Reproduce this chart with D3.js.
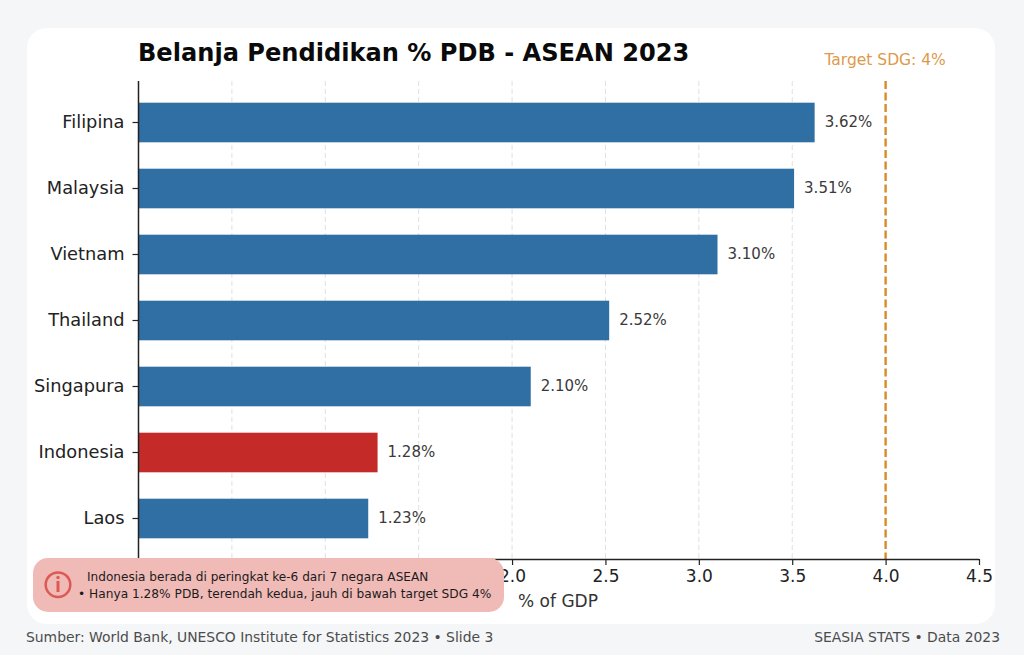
<!DOCTYPE html>
<html>
<head>
<meta charset="utf-8">
<script src="https://cdn.jsdelivr.net/npm/d3@7/dist/d3.min.js"></script>
<style>
html,body{margin:0;padding:0;background:#f4f6f8;}
svg{display:block;}
svg text{font-family:"DejaVu Sans",sans-serif;}
</style>
</head>
<body>
<svg id="chart" width="1024" height="655"></svg>
<script>
const countries = ["Filipina","Malaysia","Vietnam","Thailand","Singapura","Indonesia","Laos"];
const spending = [3.62,3.51,3.10,2.52,2.10,1.28,1.23];
const xTicks = [0,0.5,1.0,1.5,2.0,2.5,3.0,3.5,4.0,4.5];
const gridTicks = [0.5,1.0,1.5,2.0,2.5,3.0,3.5];
const targetValue = 4;
const highlighted = "Indonesia";
const titleText = "Belanja Pendidikan % PDB - ASEAN 2023";
const calloutLines = ["Indonesia berada di peringkat ke-6 dari 7 negara ASEAN","• Hanya 1.28% PDB, terendah kedua, jauh di bawah target SDG 4%"];

const svg = d3.select("#chart");
const x = d3.scaleLinear().domain([0,4.5]).range([138.5,979]);
const y = d3.scaleBand().domain(countries).range([89.5,551.5]).paddingInner(0.4).paddingOuter(0.2);
const axisTop = 81, axisBottom = 559;

// page card
svg.append("rect").attr("x",27).attr("y",28).attr("width",968).attr("height",596).attr("rx",20).attr("fill","#fff");

// title
svg.append("text").attr("x",138).attr("y",61).attr("font-size",24.1).attr("font-weight",700).attr("fill","#0a0a0a").text(titleText);

// vertical gridlines
svg.append("g").selectAll("line").data(gridTicks).join("line")
  .attr("x1",d=>x(d)).attr("x2",d=>x(d)).attr("y1",axisTop).attr("y2",axisBottom)
  .attr("stroke","#e0e0e0").attr("stroke-width",1).attr("stroke-dasharray","5 3");

// bars
svg.append("g").selectAll("rect").data(countries).join("rect")
  .attr("x",x(0)).attr("y",d=>y(d)).attr("height",y.bandwidth())
  .attr("width",(d,i)=>x(spending[i])-x(0))
  .attr("fill",d=>d===highlighted?"#c32a28":"#2f6fa3");

// value labels
svg.append("g").selectAll("text").data(countries).join("text")
  .attr("x",(d,i)=>x(spending[i])+10).attr("y",d=>y(d)+y.bandwidth()/2+4.5)
  .attr("font-size",15).attr("fill","#3a3a3a").text((d,i)=>spending[i].toFixed(2)+"%");

// SDG target line
svg.append("line").attr("x1",x(targetValue)).attr("x2",x(targetValue)).attr("y1",axisTop).attr("y2",axisBottom)
  .attr("stroke","#d98a2b").attr("stroke-width",2.4).attr("stroke-dasharray","8 3.5");
svg.append("text").attr("x",x(targetValue)-0.5).attr("y",65).attr("text-anchor","middle")
  .attr("font-size",15.5).attr("fill","#dc9a4c").text("Target SDG: "+targetValue+"%");

// axes
const xAxis = d3.axisBottom(x).tickValues(xTicks).tickFormat(d3.format(".1f")).tickSize(6).tickPadding(5);
const gx = svg.append("g").attr("transform",`translate(0,${axisBottom})`).call(xAxis);
gx.attr("font-family",null);
gx.selectAll("text").attr("font-size",17).attr("fill","#222");
// the callout box covers the labels left of 2.0
gx.selectAll(".tick").filter(d=>d<2).select("text").remove();
gx.selectAll("line").attr("stroke","#222").attr("stroke-width",1.2);
gx.select(".domain").attr("stroke","#222").attr("stroke-width",1.5).attr("d",`M${x(0)},0.5H${x(4.5)}`);

const yAxis = d3.axisLeft(y).tickSize(6).tickPadding(8);
const gy = svg.append("g").attr("transform",`translate(${x(0)},0)`).call(yAxis);
gy.attr("font-family",null);
gy.selectAll("text").attr("font-size",17.8).attr("fill","#222");
gy.selectAll("line").attr("stroke","#222").attr("stroke-width",1.2);
gy.select(".domain").attr("stroke","#222").attr("stroke-width",1.5).attr("d",`M0,${axisTop}V${axisBottom}`);

svg.append("text").attr("x",558).attr("y",607).attr("text-anchor","middle")
  .attr("font-size",17).attr("fill","#333").text("% of GDP");

// callout box
svg.append("rect").attr("x",33).attr("y",558).attr("width",471).attr("height",54).attr("rx",15).attr("fill","#f0bab7");
svg.append("circle").attr("cx",58).attr("cy",584.7).attr("r",12.3).attr("fill","none").attr("stroke","#dc5a55").attr("stroke-width",2.5);
svg.append("circle").attr("cx",58).attr("cy",577.5).attr("r",1.7).attr("fill","#dc5a55");
svg.append("rect").attr("x",56.5).attr("y",581).attr("width",3).attr("height",11).attr("fill","#dc5a55");
svg.append("text").attr("x",87).attr("y",581).attr("font-size",12.1).attr("fill","#1c1c1c").text(calloutLines[0]);
svg.append("text").attr("x",78).attr("y",598).attr("font-size",12.2).attr("fill","#1c1c1c").text(calloutLines[1]);

// footer
svg.append("text").attr("x",26).attr("y",642).attr("font-size",13.9).attr("fill","#4c4c4c")
  .text("Sumber: World Bank, UNESCO Institute for Statistics 2023 • Slide 3");
svg.append("text").attr("x",1000).attr("y",642).attr("text-anchor","end").attr("font-size",13.9).attr("fill","#4c4c4c")
  .text("SEASIA STATS • Data 2023");
</script>
</body>
</html>
